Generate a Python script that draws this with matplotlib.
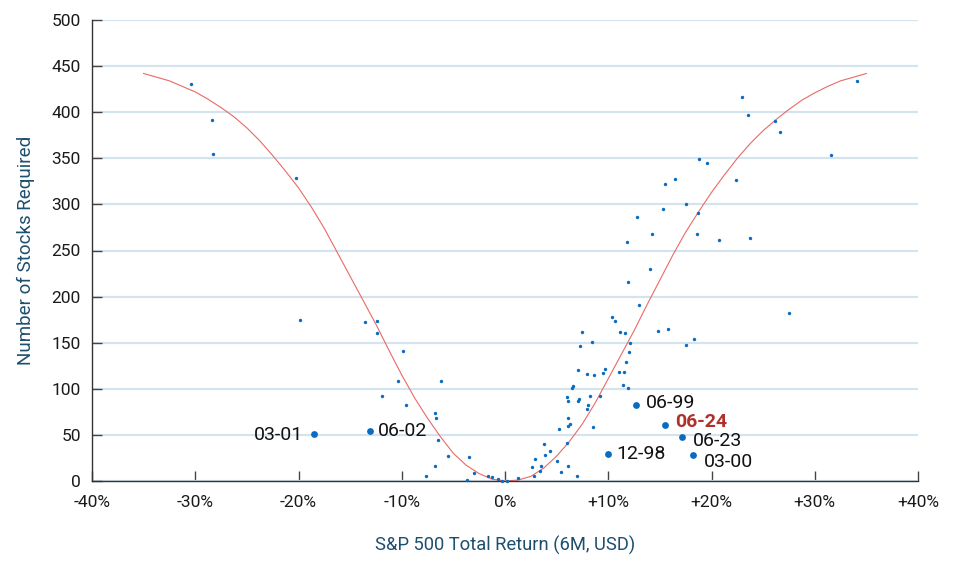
import matplotlib
matplotlib.use("Agg")
import matplotlib.pyplot as plt

plt.rcParams['font.family'] = ['Roboto', 'DejaVu Sans']

# ---- data ----
ret_x = [-30.4, -28.35, -28.3, -20.2, -19.85, -13.6, -12.4, -12.4, -11.9,
         -9.9, -10.4, -6.2, -9.6, -6.75, -6.7, -6.5, -5.5, -3.5, -6.75, -7.65,
         -3.0, -3.7, -1.6, -1.3, -0.7, -0.3, 0.2,
         10.33, 10.65, 7.46, 11.1, 11.65, 8.43, 7.3, 12.0, 11.7, 7.04, 7.9, 8.6,
         9.7, 9.5, 11.0, 11.5, 6.6, 6.5, 11.4, 11.9, 6.0, 7.2, 7.07, 6.1, 8.2,
         9.2, 8.07, 7.94, 6.07, 6.27, 6.1, 8.55, 5.2, 6.0, 3.8, 4.4, 3.84, 2.94,
         5.0, 2.6, 3.5, 6.1, 3.4, 5.4, 2.8, 6.97, 1.3, 12.1,
         12.95, 14.85, 15.8, 17.5, 18.3,
         18.8, 19.56, 15.5, 16.5, 17.5, 15.27, 18.66, 12.75, 14.2, 18.57, 20.75,
         11.85, 14.0, 11.95, 22.98, 23.5, 26.15, 26.6, 31.6, 34.06, 23.7, 27.5,
         22.35]
stocks_y = [431, 391, 355, 329, 175, 172.5, 174, 160, 92,
            141, 108, 108, 82, 74, 68, 44.5, 27, 26, 16.6, 5.4,
            8.3, 1, 5.8, 4, 2.5, 0.5, 0.5,
            177.5, 173, 162, 162, 161, 151, 146, 139.5, 129, 120, 116, 115,
            121, 117.5, 118, 118, 103, 101, 104, 100.5, 91, 89, 87, 86.4, 92,
            92.5, 82, 77.7, 68.7, 61.8, 59.7, 59, 56, 41.5, 39.8, 32.2, 28.5, 23.5,
            21.3, 15.5, 16.6, 16.6, 10.5, 9.4, 5.4, 5.4, 3.6, 149.3,
            191, 163, 165, 148, 154,
            349, 344.6, 322, 327.5, 300, 294.7, 290.7, 286.7, 268, 268, 261.7,
            259.6, 229.6, 215.5, 416.5, 397.3, 390.8, 379, 354, 434, 263.6, 182.2,
            326.8]

label_names = ['03-01', '06-02', '12-98', '06-99', '06-24', '06-23', '03-00']
label_x = [-18.5, -13.1, 10.0, 12.7, 15.5, 17.15, 18.2]
label_y = [51, 54.6, 29.3, 82.8, 61.1, 48, 28.5]

curve_x = [-35, -33.75, -32.5, -31.25, -30, -28.75, -27.5, -26.25, -25, -23.75,
           -22.5, -21.25, -20, -18.75, -17.5, -16.25, -15, -13.75, -12.5, -11.25,
           -10, -8.75, -7.5, -6.25, -5, -3.75, -2.5, -1.25, 0, 1.25, 2.5, 3.75,
           5, 6.25, 7.5, 8.75, 10, 11.25, 12.5, 13.75, 15, 16.25, 17.5, 18.75,
           20, 21.25, 22.5, 23.75, 25, 26.25, 27.5, 28.75, 30, 31.25, 32.5,
           33.75, 35]
curve_y = [442, 438, 434, 428, 422, 414, 405, 395, 383, 369,
           353, 336, 318, 297, 274, 248, 222, 196, 170, 142,
           115, 90, 68, 48, 30, 17, 8, 2, 0, 1, 5, 14,
           27, 43, 62, 85, 111, 137, 163, 191, 218, 245, 270, 292,
           313, 332, 350, 366, 380, 392, 403, 413, 421, 428, 434,
           438, 442]

xticks = [-40, -30, -20, -10, 0, 10, 20, 30, 40]
xtick_labels = ['-40%', '-30%', '-20%', '-10%', '0%', '+10%', '+20%', '+30%', '+40%']
yticks = [0, 50, 100, 150, 200, 250, 300, 350, 400, 450, 500]

# ---- styles ----
blue = '#0B6BC0'
grid_c = '#D3E4EF'
axis_label_c = '#1D4F6E'
red_label = '#B0302A'

fig = plt.figure(figsize=(9.59, 5.65), dpi=100)
ax = fig.add_axes([92/959, 1 - 481/565, (918 - 92)/959, (481 - 20)/565])

ax.set_xlim(-40, 40)
ax.set_ylim(0, 500)

ax.set_yticks(yticks)
ax.set_xticks(xticks)
ax.set_xticklabels(xtick_labels)
ax.yaxis.grid(True, color=grid_c, linewidth=1.6)
ax.set_axisbelow(True)

for s in ['top', 'right']:
    ax.spines[s].set_visible(False)
for s in ['left', 'bottom']:
    ax.spines[s].set_color('#333333')
    ax.spines[s].set_linewidth(1.0)

ax.tick_params(axis='both', direction='in', length=7, width=1, color='#444444',
               labelsize=12.5, labelcolor='#1a1a1a')
ax.tick_params(axis='x', pad=10)
ax.tick_params(axis='y', pad=8)

ax.plot(curve_x, curve_y, color='#E96A64', linewidth=0.8, zorder=2, clip_on=False)
ax.scatter(ret_x, stocks_y, s=6, color=blue, zorder=3, linewidths=0, clip_on=False)
ax.scatter(label_x, label_y, s=24, color=blue, zorder=4, linewidths=0)

offsets = {'03-01': (-8, -1, 'right'), '06-02': (6, 0, 'left'), '12-98': (6, 0, 'left'),
           '06-99': (7, 1, 'left'), '06-24': (7, 2, 'left'), '06-23': (8, -3, 'left'),
           '03-00': (8, -5, 'left')}
for n, x, y in zip(label_names, label_x, label_y):
    dx, dy, ha = offsets[n]
    if n == '06-24':
        ax.annotate(n, (x, y), xytext=(dx, dy), textcoords='offset points', ha=ha,
                    va='center', fontsize=14, fontweight='bold', color=red_label)
    else:
        ax.annotate(n, (x, y), xytext=(dx, dy), textcoords='offset points', ha=ha,
                    va='center', fontsize=14, color='#111111')

ax.set_ylabel('Number of Stocks Required', fontsize=13.5, color=axis_label_c, labelpad=12)
ax.set_xlabel('S&P 500 Total Return (6M, USD)', fontsize=13.2, color=axis_label_c, labelpad=19)

fig.savefig('out.png', dpi=100)
